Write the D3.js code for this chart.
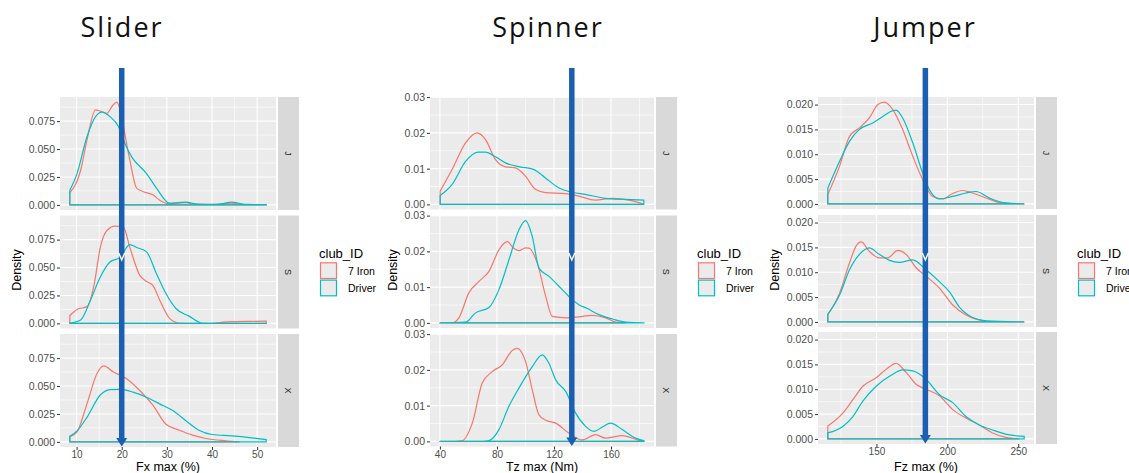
<!DOCTYPE html>
<html>
<head>
<meta charset="utf-8">
<script src="https://cdn.jsdelivr.net/npm/d3@7"></script>
<style>
body { margin: 0; background: #fff; }
text { font-family: "Liberation Sans", Arial, sans-serif; }
</style>
</head>
<body>
<script>
// ---- data ----
var titles = ["Slider", "Spinner", "Jumper"];
var xTitles = ["Fx max (%)", "Tz max (Nm)", "Fz max (%)"];
var facets = ["J", "S", "X"];
var clubs = ["7 Iron", "Driver"];
var xTicks = [[10, 20, 30, 40, 50], [40, 80, 120, 160], [150, 200, 250]];
var yTicks = [[0, 0.025, 0.05, 0.075], [0, 0.01, 0.02, 0.03], [0, 0.005, 0.01, 0.015, 0.02]];
var yFormats = [".3f", ".2f", ".3f"];
var thresholds = [20, 132.5, 184.5];

// density curves, [x, density]
var sliderJIron = [[8.5,0.0107],[10.9,0.031],[12.3,0.058],[14.2,0.085],[15.25,0.084],[16.7,0.082],[18.0,0.089],[18.9,0.092],[20,0.079],[20.8,0.061],[21.8,0.040],[23.3,0.015],[24.7,0.012],[26.9,0.009],[28.5,0.004],[30.6,0.001],[32.5,0.0015],[34.2,0.002],[36,0.0008],[40,0.0003],[44.4,0.0015],[47,0.0003],[52,0.0001]];
var sliderJDriver = [[8.5,0.013],[10.1,0.028],[12.3,0.061],[14.2,0.079],[15.6,0.083],[17.4,0.079],[19.3,0.070],[20.7,0.055],[22.2,0.043],[25.5,0.028],[27.7,0.015],[30.6,0.0015],[32.5,0.002],[34.2,0.0024],[37.1,0.0005],[41,0.0004],[44.4,0.0024],[47.4,0.0005],[52,0.0002]];
var sliderSIron = [[8.5,0.007],[10.1,0.0125],[12.3,0.015],[13.8,0.033],[15.25,0.068],[16.7,0.083],[18.5,0.087],[20.4,0.086],[21.8,0.068],[24,0.043],[25.5,0.0376],[26.9,0.034],[28.4,0.021],[30.6,0.0045],[32.8,0.0003],[38,0],[44.4,0.0015],[48,0.0018],[52,0.002]];
var sliderSDriver = [[8.5,0.0002],[10.9,0.003],[13.1,0.021],[15.25,0.0415],[17.4,0.055],[19.6,0.059],[21.8,0.0705],[23.3,0.068],[25.5,0.064],[27.7,0.0445],[29.8,0.0267],[32,0.0133],[34.9,0.0065],[37.8,0.0002],[42,0],[52,0]];
var sliderXIron = [[8.5,0.0045],[10.1,0.009],[12.3,0.034],[14.5,0.061],[16,0.068],[18.2,0.0625],[21.1,0.0566],[24,0.046],[26.9,0.0328],[29.8,0.0158],[32.8,0.0104],[35.7,0.006],[38.6,0.003],[43,0.001],[46,0.0002]];
var sliderXDriver = [[8.5,0.005],[10.1,0.0098],[12.3,0.022],[15.25,0.042],[17.4,0.0468],[19.6,0.047],[22.5,0.0446],[25.5,0.040],[28.4,0.034],[31.3,0.028],[34.2,0.019],[37.1,0.0104],[40,0.0066],[44.4,0.0054],[48.8,0.0036],[52,0.002]];

var spinnerJIron = [[40.2,0.0037],[48.6,0.0098],[58,0.0172],[66.2,0.020],[72,0.0181],[79,0.0125],[86,0.0105],[93,0.0102],[100,0.0079],[107,0.0042],[114,0.0033],[128,0.003],[137.5,0.0023],[149,0.0012],[161,0.0017],[172.6,0.0012],[182,0.0002]];
var spinnerJDriver = [[40.2,0.0025],[48.6,0.0056],[58,0.012],[66.9,0.0146],[72,0.0146],[79,0.0133],[86,0.0116],[96,0.0105],[105.6,0.0098],[114,0.0074],[123.6,0.0046],[133,0.0034],[142,0.0028],[156,0.0017],[170,0.0014],[183,0.0012]];
var spinnerSIron = [[40.2,0],[48.6,0],[53.3,0.0014],[60.3,0.0084],[67.4,0.0116],[74.4,0.0144],[81.4,0.0204],[87.2,0.0227],[92,0.0208],[95.4,0.0202],[100,0.021],[102.4,0.0209],[108.3,0.0167],[114.2,0.0074],[118.8,0.0018],[128.2,0.0014],[137.5,0.0017],[146.9,0.0021],[156.2,0.0014],[163.3,0.0002],[170,0]];
var spinnerSDriver = [[40.2,0],[58,0.0002],[65,0.0028],[74.4,0.0043],[81.4,0.0093],[88.4,0.0176],[95.4,0.026],[100.1,0.0286],[104.8,0.0241],[109.5,0.0153],[116.5,0.013],[125.8,0.0093],[132.8,0.0065],[137.5,0.0051],[143.4,0.004],[151.5,0.0023],[161,0.0011],[170.3,0.0002],[183,0]];
var spinnerXIron = [[40.2,0],[50,0],[55.6,0.0002],[62.7,0.0051],[69.7,0.0163],[76.7,0.0195],[83.7,0.0214],[90.7,0.0254],[94.2,0.026],[100.1,0.0223],[104.8,0.0144],[109.5,0.0074],[114.2,0.0059],[121.2,0.0051],[130.5,0.0023],[139.9,0.0004],[149.2,0.0019],[156.2,0.0009],[167.9,0.0016],[179.6,0.0003],[183,0]];
var spinnerXDriver = [[40.2,0],[70,0],[74.4,0.0002],[81.4,0.0033],[88.4,0.0098],[95.4,0.0149],[104.8,0.0209],[111.8,0.0242],[116.5,0.0218],[121.2,0.0172],[128.2,0.014],[135.2,0.0079],[142.2,0.0042],[148,0.0028],[153.9,0.004],[159.7,0.0051],[167.9,0.0033],[177.3,0.0009],[183,0.0002]];

var jumperJIron = [[115.7,0.0019],[124,0.0076],[131,0.0136],[138,0.0153],[145,0.0173],[151,0.020],[155.6,0.0205],[161.5,0.019],[168.5,0.015],[175.6,0.0096],[182.6,0.0049],[189.7,0.0015],[196.7,0.001],[203.8,0.0021],[210.8,0.0027],[217.8,0.0022],[227.3,0.0012],[236.6,0.0003],[246,0],[254.2,0]];
var jumperJDriver = [[115.7,0.0032],[124,0.0086],[131,0.0126],[138,0.015],[147.4,0.0163],[154.5,0.0176],[160,0.0186],[163.9,0.0189],[168.5,0.0173],[175.6,0.0123],[182.6,0.0062],[187.3,0.0029],[194.4,0.001],[203.8,0.0015],[213.1,0.0022],[220.2,0.0025],[229.6,0.0012],[241.3,0.0002],[254.2,0]];
var jumperSIron = [[115.7,0.0015],[124,0.0058],[131,0.0119],[135.7,0.0153],[139.2,0.0161],[145,0.0142],[152,0.0129],[158,0.0129],[165,0.0144],[170.9,0.0136],[178,0.0109],[185,0.0092],[194.4,0.0068],[203.8,0.0034],[213.1,0.0014],[222.5,0.0004],[231.9,0],[254.2,0]];
var jumperSDriver = [[115.7,0.0015],[124,0.0054],[131,0.0105],[138,0.0136],[145,0.0149],[152,0.0136],[159.2,0.0124],[166.2,0.012],[175.6,0.0125],[185,0.0105],[194.4,0.0081],[201.4,0.0061],[208.5,0.003],[217.8,0.0009],[227.3,0.0002],[254.2,0]];
var jumperXIron = [[115.7,0.0026],[126.3,0.0052],[133.4,0.0079],[140.4,0.0106],[149.8,0.0123],[156.8,0.014],[163.9,0.0152],[170.9,0.0134],[178,0.011],[185,0.01],[194.4,0.0087],[203.8,0.0059],[213.1,0.0042],[222.5,0.0028],[231.9,0.0012],[241.3,0.0003],[250,0]];
var jumperXDriver = [[115.7,0.0012],[126.3,0.0025],[133.4,0.0045],[140.4,0.0076],[149.8,0.0106],[160.3,0.0128],[168.5,0.0139],[175.6,0.0137],[185,0.012],[194.4,0.0089],[203.8,0.0073],[213.1,0.0045],[222.5,0.0028],[231.9,0.0018],[243.7,0.0008],[254.2,0.0005]];

var series = [
  [[sliderJIron, sliderJDriver], [sliderSIron, sliderSDriver], [sliderXIron, sliderXDriver]],
  [[spinnerJIron, spinnerJDriver], [spinnerSIron, spinnerSDriver], [spinnerXIron, spinnerXDriver]],
  [[jumperJIron, jumperJDriver], [jumperSIron, jumperSDriver], [jumperXIron, jumperXDriver]]
];

// ---- layout ----
var colors = ["#F8766D", "#00BFC4"];
var layout = [
  {left: 60, right: 276, tops: [97, 215.5, 334], h: 113, titleX: 122, yTitleX: 17},
  {left: 430, right: 654, tops: [97, 215.5, 334], h: 112.5, titleX: 548, yTitleX: 393},
  {left: 818, right: 1034, tops: [97, 215, 332], h: 112, titleX: 925, yTitleX: 775}
];

var svg = d3.select("body").append("svg")
  .attr("width", 1129)
  .attr("height", 473);

function densPath(pts, x, y) {
  var line = d3.line().x(function(d) { return x(d[0]); }).y(function(d) { return y(d[1]); })
    .curve(d3.curveMonotoneX);
  var first = pts[0], last = pts[pts.length - 1];
  return "M" + x(first[0]) + "," + y(0) + "L" + line(pts).slice(1) +
    "L" + x(last[0]) + "," + y(0) + "Z";
}

layout.forEach(function(L, p) {
  var g = svg.append("g");
  var all = d3.merge(series[p].map(function(f) { return d3.merge(f); }));
  var xExt = d3.extent(all, function(d) { return d[0]; });
  var xPad = (xExt[1] - xExt[0]) * 0.05;
  var yTop = d3.max(all, function(d) { return d[1]; });
  var yPad = yTop * 0.05;

  var x = d3.scaleLinear().domain([xExt[0] - xPad, xExt[1] + xPad]).range([L.left, L.right]);
  var xStep = xTicks[p][1] - xTicks[p][0];
  var xMinor = d3.range(xTicks[p][0] - xStep / 2, xExt[1] + xPad, xStep)
    .filter(function(v) { return v > x.domain()[0] && v < x.domain()[1]; });
  var yStep = yTicks[p][1] - yTicks[p][0];

  facets.forEach(function(fc, k) {
    var top = L.tops[k], bot = top + L.h;
    var y = d3.scaleLinear().domain([-yPad, yTop + yPad]).range([bot, top]);
    var yMinor = yTicks[p].map(function(v) { return v + yStep / 2; })
      .filter(function(v) { return v < y.domain()[1]; });

    g.append("rect").attr("x", L.left).attr("y", top)
      .attr("width", L.right - L.left).attr("height", L.h).attr("fill", "#ebebeb");

    // grid
    g.selectAll(null).data(yMinor).enter().append("line")
      .attr("x1", L.left).attr("x2", L.right).attr("y1", y).attr("y2", y)
      .attr("stroke", "#fff").attr("stroke-width", 0.6);
    g.selectAll(null).data(xMinor).enter().append("line")
      .attr("y1", top).attr("y2", bot).attr("x1", x).attr("x2", x)
      .attr("stroke", "#fff").attr("stroke-width", 0.6);
    g.selectAll(null).data(yTicks[p]).enter().append("line")
      .attr("x1", L.left).attr("x2", L.right).attr("y1", y).attr("y2", y)
      .attr("stroke", "#fff").attr("stroke-width", 1.1);
    g.selectAll(null).data(xTicks[p]).enter().append("line")
      .attr("y1", top).attr("y2", bot).attr("x1", x).attr("x2", x)
      .attr("stroke", "#fff").attr("stroke-width", 1.1);

    // y axis
    var ya = g.append("g").attr("transform", "translate(" + L.left + ",0)")
      .call(d3.axisLeft(y).tickValues(yTicks[p]).tickFormat(d3.format(yFormats[p]))
        .tickSize(3).tickPadding(2));
    ya.select(".domain").remove();
    ya.selectAll("line").attr("stroke", "#333");
    ya.selectAll("text").attr("fill", "#4d4d4d").style("font-size", "10.5px")
      .style("font-family", "Liberation Sans, Arial, sans-serif");

    // strip
    g.append("rect").attr("x", L.right + 2).attr("y", top)
      .attr("width", 21).attr("height", L.h).attr("fill", "#d9d9d9");
    g.append("text")
      .attr("transform", "translate(" + (L.right + 12.5) + "," + (top + L.h / 2) + ") rotate(90)")
      .attr("text-anchor", "middle").attr("dy", "0.35em")
      .attr("fill", "#1a1a1a").style("font-size", "9px").text(fc);

    // densities
    series[p][k].forEach(function(pts, c) {
      g.append("path").attr("d", densPath(pts, x, y))
        .attr("fill", "none").attr("stroke", colors[c]).attr("stroke-width", 1.2);
    });

    if (k === 2) {
      var xa = g.append("g").attr("transform", "translate(0," + bot + ")")
        .call(d3.axisBottom(x).tickValues(xTicks[p]).tickSize(3).tickPadding(1));
      xa.select(".domain").remove();
      xa.selectAll("line").attr("stroke", "#333");
      xa.selectAll("text").attr("fill", "#4d4d4d").style("font-size", "10px")
        .style("font-family", "Liberation Sans, Arial, sans-serif");
      g.append("text").attr("x", (L.left + L.right) / 2).attr("y", 471)
        .attr("text-anchor", "middle").style("font-size", "12.5px").text(xTitles[p]);
    }
  });

  // y title
  g.append("text")
    .attr("transform", "translate(" + (L.yTitleX + 4) + ",270) rotate(-90)")
    .attr("text-anchor", "middle").style("font-size", "12.5px").text("Density");

  // legend
  var lx = L.right + 43;
  g.append("text").attr("x", lx).attr("y", 258).style("font-size", "13px").text("club_ID");
  clubs.forEach(function(cl, c) {
    var ky = 262 + c * 17.3;
    g.append("rect").attr("x", lx + 1.5).attr("y", ky + 0.8)
      .attr("width", 16).attr("height", 15.7)
      .attr("fill", "#ebebeb").attr("stroke", colors[c]).attr("stroke-width", 1.2);
    g.append("text").attr("x", lx + 29).attr("y", ky + 12.5)
      .style("font-size", "10.5px").text(cl);
  });

  // threshold arrow
  var ax = x(thresholds[p]);
  var lastBot = L.tops[2] + L.h;
  g.append("line").attr("x1", ax).attr("x2", ax).attr("y1", 68).attr("y2", lastBot - 8)
    .attr("stroke", "#1b5fb3").attr("stroke-width", 5.5);
  g.append("path")
    .attr("d", "M" + (ax - 5.5) + "," + (lastBot - 9) + "L" + (ax + 5.5) + "," + (lastBot - 9) +
      "L" + ax + "," + (lastBot - 0.5) + "Z")
    .attr("fill", "#1b5fb3");
  var my = 257;
  g.append("path")
    .attr("d", "M" + (ax - 3) + "," + (my - 4) + "L" + ax + "," + (my + 3) + "L" + (ax + 3) + "," + (my - 4))
    .attr("fill", "none").attr("stroke", "#fff").attr("stroke-width", 1.4);

  // title
  g.append("text").attr("x", L.titleX).attr("y", 37).attr("text-anchor", "middle")
    .style("font-family", "Open Sans, sans-serif").style("font-size", "27px")
    .style("letter-spacing", "2px").attr("fill", "#111").text(titles[p]);
});
</script>
</body>
</html>
